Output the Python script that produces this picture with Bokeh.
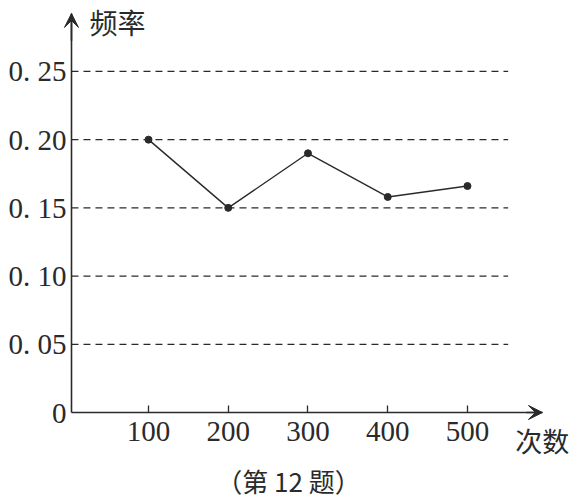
from bokeh.plotting import figure
from bokeh.models import FixedTicker, Label, Arrow, VeeHead, Range1d, LinearAxis
from bokeh.embed import file_html
from bokeh.resources import INLINE

# ---- data ----
trials = [100, 200, 300, 400, 500]
freq = [0.20, 0.15, 0.19, 0.158, 0.166]
x_ticks = [100, 200, 300, 400, 500]
x_tick_labels = ["100", "200", "300", "400", "500"]
y_ticks = [0, 0.05, 0.1, 0.15, 0.2, 0.25]
y_tick_labels = ["0", "0. 05", "0. 10", "0. 15", "0. 20", "0. 25"]
grid_levels = [0.05, 0.1, 0.15, 0.2, 0.25]
x_title = "次数"
y_title = "频率"
caption = "（第 12 题）"

# ---- layout constants ----
AX_X = 3.4          # x position of the vertical axis
X_TIP = 594         # tip of horizontal arrow
Y_TIP = 0.2925      # tip of vertical arrow
GRID_END = 551
INK = "#2a2a2a"
SERIF = "Liberation Serif"
CJK = "Noto Sans CJK SC"

p = figure(width=574, height=500, output_backend="svg", toolbar_location=None,
           x_range=Range1d(-85.6, 634.2), y_range=Range1d(-0.0645, 0.3020),
           x_axis_location=None, y_axis_location=None,
           min_border_left=0, min_border_right=0, min_border_top=0,
           min_border_bottom=0)
p.outline_line_color = None
p.background_fill_color = "white"
p.border_fill_color = "white"
p.grid.visible = False

# x axis (fixed at y = 0)
xa = LinearAxis(fixed_location=0, bounds=(AX_X, X_TIP))
xa.ticker = FixedTicker(ticks=x_ticks)
xa.major_label_overrides = {t: l for t, l in zip(x_ticks, x_tick_labels)}
xa.major_tick_in = 7
xa.major_tick_out = 0
xa.minor_tick_line_color = None
xa.axis_line_color = INK
xa.axis_line_width = 1.6
xa.major_tick_line_color = INK
xa.major_tick_line_width = 1.3
xa.major_label_text_font = SERIF
xa.major_label_text_font_size = "29px"
xa.major_label_text_color = INK
xa.major_label_standoff = 9
p.add_layout(xa, "below")

# y axis (fixed at x = AX_X)
ya = LinearAxis(fixed_location=AX_X, bounds=(0, Y_TIP))
ya.ticker = FixedTicker(ticks=y_ticks)
ya.major_label_overrides = {t: l for t, l in zip(y_ticks, y_tick_labels)}
ya.major_tick_in = 0
ya.major_tick_out = 0
ya.minor_tick_line_color = None
ya.axis_line_color = INK
ya.axis_line_width = 1.6
ya.major_label_text_font = SERIF
ya.major_label_text_font_size = "29px"
ya.major_label_text_color = INK
ya.major_label_standoff = 5
p.add_layout(ya, "left")

# dashed reference lines
p.segment(x0=[AX_X] * len(grid_levels), y0=grid_levels,
          x1=[GRID_END] * len(grid_levels), y1=grid_levels,
          line_color=INK, line_width=1.3, line_dash="7 5")

# data line + points
p.line(trials, freq, line_color=INK, line_width=1.4)
p.scatter(trials, freq, size=7, fill_color=INK, line_color=INK)

# axis arrow heads
p.add_layout(Arrow(x_start=X_TIP - 20, y_start=0, x_end=X_TIP, y_end=0,
                   line_color=INK, line_width=1.6,
                   end=VeeHead(size=14, fill_color=INK, line_color=INK)))
p.add_layout(Arrow(x_start=AX_X, y_start=Y_TIP - 0.02, x_end=AX_X, y_end=Y_TIP,
                   line_color=INK, line_width=1.6,
                   end=VeeHead(size=14, fill_color=INK, line_color=INK)))

# titles
p.add_layout(Label(x=26, y=0.286, text=y_title, text_font=CJK,
                   text_font_size="28px", text_color=INK,
                   text_baseline="middle", text_align="left"))
p.add_layout(Label(x=560, y=-0.0205, text=x_title, text_font=CJK,
                   text_font_size="27px", text_color=INK,
                   text_baseline="middle", text_align="left"))
p.add_layout(Label(x=275.5, y=-0.0495, text=caption, text_font=CJK,
                   text_font_size="26px", text_color=INK,
                   text_baseline="middle", text_align="center"))

open("out.html", "w").write(file_html(p, INLINE))
